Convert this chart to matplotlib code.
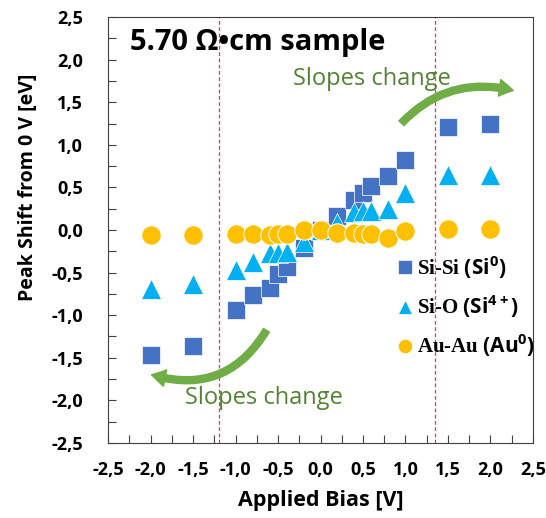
import matplotlib.pyplot as plt
from matplotlib.ticker import MultipleLocator, FuncFormatter

plt.rcParams['font.family'] = ['Open Sans', 'DejaVu Sans']
plt.rcParams['mathtext.fontset'] = 'custom'
plt.rcParams['mathtext.rm'] = 'Open Sans'
plt.rcParams['mathtext.bf'] = 'Open Sans:bold'

# applied bias [V]
bias = [-2.0, -1.5, -1.0, -0.8, -0.6, -0.5, -0.4, -0.2, 0.0,
        0.2, 0.4, 0.5, 0.6, 0.8, 1.0, 1.5, 2.0]
# peak shifts from 0 V [eV]
si_si = [-1.47, -1.36, -0.94, -0.76, -0.68, -0.52, -0.43, -0.21, 0.0,
         0.16, 0.35, 0.44, 0.52, 0.63, 0.82, 1.21, 1.25]
si_o = [-0.69, -0.63, -0.47, -0.38, -0.27, -0.27, -0.26, -0.14, 0.0,
        0.08, 0.21, 0.22, 0.22, 0.25, 0.43, 0.65, 0.65]
au_au = [-0.06, -0.06, -0.05, -0.05, -0.06, -0.05, -0.05, 0.0, 0.0,
         -0.03, -0.04, -0.05, -0.05, -0.09, -0.01, 0.01, 0.01]
limits = [-1.2, 1.35]

fig = plt.figure(figsize=(5.46, 5.18), dpi=100)
ax = fig.add_axes([0.198, 0.145, 0.778, 0.822])

ax.plot(bias, si_si, 's', ms=13, color='#4472C4', mec='white', mew=0.5,
        label=r'Si-Si $\mathbf{(Si^{0})}$')
ax.plot(bias, si_o, '^', ms=14, color='#00B0F0', mec='white', mew=0.5,
        label=r'Si-O $\mathbf{(Si^{4+})}$')
ax.plot(bias, au_au, 'o', ms=14, color='#FFC000', mec='white', mew=0.7,
        label=r'Au-Au $\mathbf{(Au^{0})}$')

for v in limits:
    ax.axvline(v, color='#FF3030', ls=(0, (3, 2)), lw=0.9)

ax.set_xlim(-2.5, 2.5)
ax.set_ylim(-2.5, 2.5)
fmt = FuncFormatter(lambda v, p: f'{v:.1f}'.replace('.', ','))
for a in (ax.xaxis, ax.yaxis):
    a.set_major_locator(MultipleLocator(0.5))
    a.set_minor_locator(MultipleLocator(0.25))
    a.set_major_formatter(fmt)
ax.tick_params(which='both', direction='in', length=6, width=0.8, color='#404040')
ax.tick_params(labelsize=13)
ax.tick_params(axis='x', pad=13)
ax.tick_params(axis='y', pad=18)
for lab in ax.get_xticklabels() + ax.get_yticklabels():
    lab.set_fontweight('bold')
for s in ax.spines.values():
    s.set_color('#404040')

ax.set_xlabel('Applied Bias [V]', fontsize=15.5, fontweight='bold')
ax.set_ylabel('Peak Shift from 0 V [eV]', fontsize=14, fontweight='bold')
ax.yaxis.set_label_coords(-0.165, 0.6)
ax.xaxis.set_label_coords(0.5, -0.11)

ax.text(-2.24, 2.2, '5.70 Ω•cm sample', fontsize=21, fontweight='bold', va='center')
ax.text(0.6, 1.77, 'Slopes change', fontsize=17, color='#548235', ha='center', va='center')
ax.text(-0.66, -1.97, 'Slopes change', fontsize=17, color='#548235', ha='center', va='center')

ax.annotate('', xy=(2.3, 1.63), xytext=(0.93, 1.23),
            arrowprops=dict(arrowstyle='simple,head_width=1.2,head_length=1.0,tail_width=0.5',
                            color='#70AD47', connectionstyle='arc3,rad=-0.3'))
ax.annotate('', xy=(-2.02, -1.69), xytext=(-0.62, -1.15),
            arrowprops=dict(arrowstyle='simple,head_width=1.2,head_length=1.0,tail_width=0.5',
                            color='#70AD47', connectionstyle='arc3,rad=-0.4'))

leg = ax.legend(loc='center left', bbox_to_anchor=(0.64, 0.32), frameon=False,
                markerscale=0.75, handlelength=0.6, handletextpad=0.3, labelspacing=0.6,
                prop={'family': 'Liberation Serif', 'weight': 'bold', 'size': 15})

fig.savefig('out.png')
